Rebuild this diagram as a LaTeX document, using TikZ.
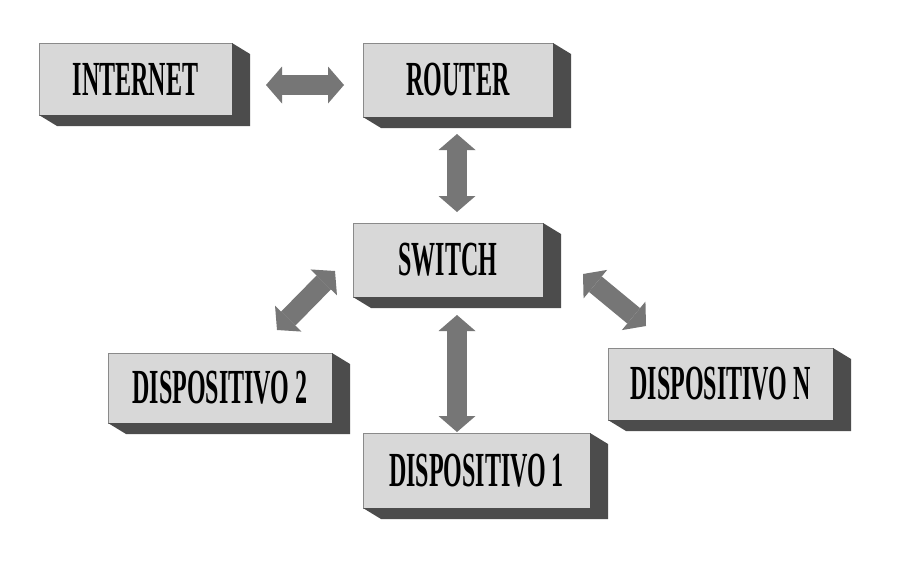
\documentclass[tikz,border=0pt]{standalone}
\usepackage{fontspec}
\setmainfont{Liberation Serif}[FakeStretch=0.49]
\usetikzlibrary{arrows.meta,calc}
\definecolor{facecol}{HTML}{D8D8D8}
\definecolor{edgecol}{HTML}{8A8A8A}
\definecolor{sidecol}{HTML}{4C4C4C}
\definecolor{arrcol}{HTML}{767676}
\tikzset{
  box/.style={rectangle, fill=facecol, draw=edgecol, line width=0.8pt, outer sep=0pt, inner sep=0pt,
    font=\bfseries\fontsize{49}{50}\selectfont, text=black},
  biarrow/.style={draw=arrcol, line width=20pt,
    {Triangle[width=37pt,length=16pt,line width=0pt]}-{Triangle[width=37pt,length=16pt,line width=0pt]}},
}
\begin{document}
\begin{tikzpicture}[x=1pt,y=-1pt]
\useasboundingbox[fill=white] (0,0) rectangle (912,568);
% front faces
\node[box, minimum width=193pt, minimum height=72pt] (internet) at (135.5,79) {INTERNET};
\node[box, minimum width=190pt, minimum height=74pt] (router) at (458,80) {ROUTER};
\node[box, minimum width=190pt, minimum height=74pt] (switch) at (448,260) {SWITCH};
\node[box, minimum width=224pt, minimum height=70pt] (disp2) at (220,388) {DISPOSITIVO 2};
\node[box, minimum width=225pt, minimum height=72pt] (dispN) at (720.5,384) {DISPOSITIVO N};
\node[box, minimum width=227pt, minimum height=75pt] (disp1) at (476.5,470.5) {DISPOSITIVO 1};
% extrusions
\foreach \n in {internet,router,switch,disp2,dispN,disp1}{
  \fill[sidecol] (\n.north east) -- ($(\n.north east)+(18,11)$) -- ($(\n.south east)+(18,11)$)
     -- ($(\n.south west)+(18,11)$) -- (\n.south west) -- (\n.south east) -- cycle;
}
% arrow end points
\coordinate (ir1) at (266,85);
\coordinate (ir2) at (344,85);
\coordinate (rs1) at (457,134);
\coordinate (rs2) at (457,212);
\coordinate (sd1a) at (457,315);
\coordinate (sd1b) at (457,432);
\coordinate (sd2a) at (335,271);
\coordinate (sd2b) at (277,330);
\coordinate (sdna) at (583,274);
\coordinate (sdnb) at (646,326);
\draw[biarrow] (ir1) -- (ir2);
\draw[biarrow] (rs1) -- (rs2);
\draw[biarrow] (sd1a) -- (sd1b);
\draw[biarrow] (sd2a) -- (sd2b);
\draw[biarrow] (sdna) -- (sdnb);
\end{tikzpicture}
\end{document}
